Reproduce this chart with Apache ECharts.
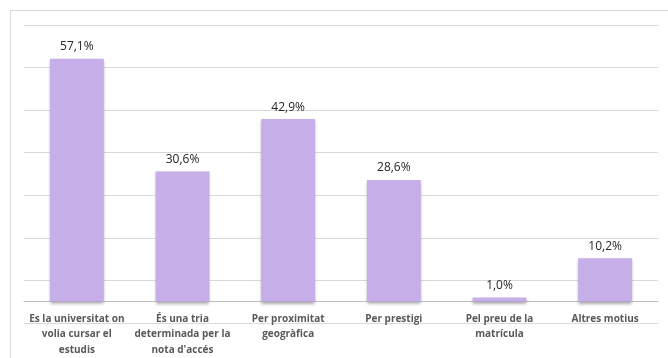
<!DOCTYPE html>
<html>
<head>
<meta charset="utf-8">
<style>html,body{margin:0;padding:0;background:#fff;}#c{width:668px;height:358px;}</style>
<script src="https://cdn.jsdelivr.net/npm/echarts@6/dist/echarts.min.js"></script>
</head>
<body>
<div id="c"></div>
<script>
const categories = [
  'Es la universitat on\nvolia cursar el\nestudis',
  'És una tria\ndeterminada per la\nnota d\'accés',
  'Per proximitat\ngeogràfica',
  'Per prestigi',
  'Pel preu de la\nmatrícula',
  'Altres motius'
];
const values = [57.1, 30.6, 42.9, 28.6, 1.0, 10.2];
const yMin = -5, yMax = 65, yInterval = 10;

const chart = echarts.init(document.getElementById('c'), null, {renderer: 'canvas'});
chart.setOption({
  animation: false,
  backgroundColor: '#fff',
  graphic: [{
    type: 'rect', z: -10, silent: true,
    shape: {x: 10.5, y: 10.5, width: 700, height: 500},
    style: {fill: 'none', stroke: '#d9d9d9', lineWidth: 1}
  }],
  grid: {left: 24, right: 10, top: 25, bottom: 35, containLabel: false, outerBoundsMode: 'none'},
  xAxis: {
    type: 'category',
    data: categories,
    axisLine: {onZero: true, lineStyle: {color: '#bfbfbf', width: 1}},
    axisTick: {show: false},
    axisLabel: {
      interval: 0, margin: -12,
      color: '#595959', fontFamily: 'Open Sans, sans-serif',
      fontSize: 10, fontWeight: 'bold', lineHeight: 15.5
    }
  },
  yAxis: {
    type: 'value', min: yMin, max: yMax, interval: yInterval,
    axisLabel: {show: false},
    axisLine: {show: false},
    axisTick: {show: false},
    splitLine: {lineStyle: {color: '#d9d9d9', width: 1}}
  },
  series: [{
    type: 'bar',
    data: values,
    barWidth: '51%',
    itemStyle: {
      color: '#C6AEE8',
      shadowColor: 'rgba(0,0,0,0.35)', shadowBlur: 3, shadowOffsetY: 2
    },
    label: {
      show: true, position: 'top', distance: 6,
      color: '#262626', fontFamily: 'Open Sans, sans-serif', fontSize: 12,
      formatter: p => p.value.toFixed(1).replace('.', ',') + '%'
    }
  }]
});
</script>
</body>
</html>
